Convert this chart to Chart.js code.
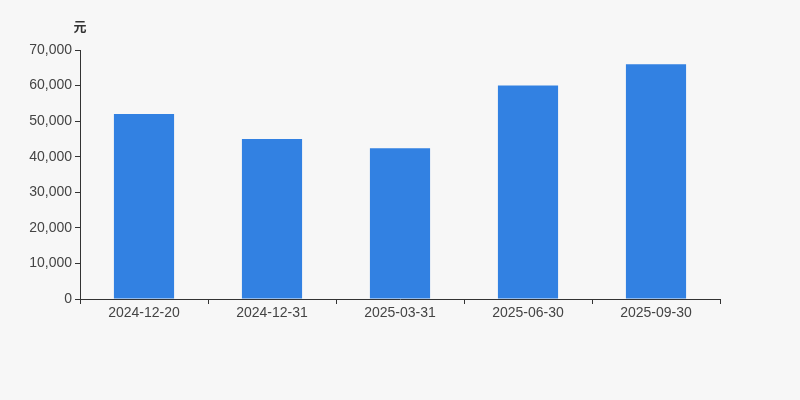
<!DOCTYPE html>
<html>
<head>
<meta charset="utf-8">
<script src="https://cdn.jsdelivr.net/npm/chart.js@4/dist/chart.umd.min.js"></script>
<style>
  html, body { margin: 0; padding: 0; background: #f7f7f7; }
  #wrap { width: 800px; height: 400px; position: relative; }
</style>
</head>
<body>
<div id="wrap"><canvas id="c"></canvas></div>
<script>
// 数据
const categories = ['2024-12-20', '2024-12-31', '2025-03-31', '2025-06-30', '2025-09-30'];
const values = [52000, 45000, 42400, 60000, 66000];
const unitLabel = '元';

// 左上角单位
const unitPlugin = {
    id: 'unit',
    afterDraw(chart) {
        const ctx = chart.ctx;
        ctx.save();
        ctx.font = 'bold 13px "Liberation Sans", Arial, "Noto Sans CJK SC", sans-serif';
        ctx.fillStyle = '#333';
        ctx.textAlign = 'center';
        ctx.textBaseline = 'middle';
        ctx.fillText(unitLabel, chart.chartArea.left, 27);
        ctx.restore();
    }
};

const tickFont = { family: '"Liberation Sans", Arial, sans-serif', size: 14 };

new Chart(document.getElementById('c'), {
    type: 'bar',
    data: {
        labels: categories,
        datasets: [{
            data: values,
            backgroundColor: '#3281e2',
            categoryPercentage: 1,
            barPercentage: 0.47
        }]
    },
    options: {
        responsive: true, maintainAspectRatio: false,
        animation: false,
        layout: { padding: { left: 0, right: 80, top: 50, bottom: 0 } },
        plugins: { legend: { display: false }, tooltip: { enabled: false } },
        scales: {
            x: {
                offset: true,
                grid: { offset: true, drawOnChartArea: false, drawTicks: true, tickLength: 5, color: '#333' },
                border: { color: '#333' },
                ticks: { color: '#444', padding: 1, font: tickFont },
                afterFit(scale) { scale.height = 101; }
            },
            y: {
                min: 0, max: 70000,
                grid: { drawOnChartArea: false, drawTicks: true, tickLength: 5, color: '#333' },
                border: { color: '#333' },
                ticks: {
                    stepSize: 10000, color: '#444', padding: 3,
                    font: tickFont,
                    callback: v => v.toLocaleString('en-US')
                },
                afterFit(scale) { scale.width = 80; }
            }
        }
    },
    plugins: [unitPlugin]
});
</script>
</body>
</html>
